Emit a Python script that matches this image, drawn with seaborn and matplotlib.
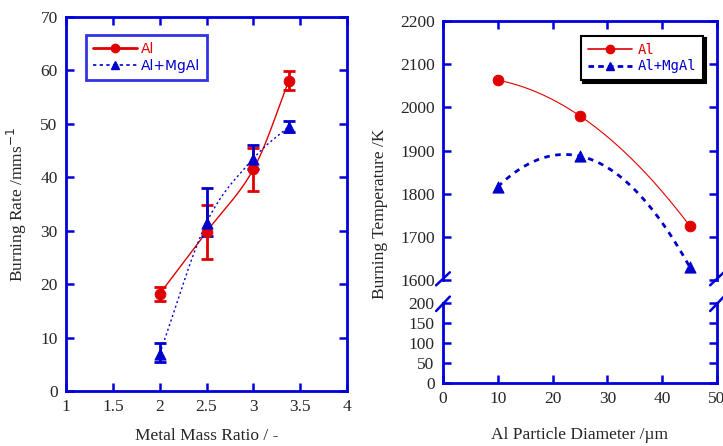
import numpy as np
import seaborn as sns
import matplotlib.pyplot as plt
from matplotlib.lines import Line2D

# left panel: burning rate vs metal mass ratio
ratio = [2.0, 2.5, 3.0, 3.38]
rate_al = [18.2, 29.8, 41.5, 58.1]
err_al = [1.3, 5.0, 4.0, 1.7]
rate_mgal = [7.0, 31.5, 43.5, 49.5]
err_mgal_lo = [1.6, 2.5, 2.0, 1.0]
err_mgal_hi = [2.0, 6.5, 2.5, 1.0]

# right panel: burning temperature vs particle diameter
diam = [10, 25, 45]
temp_al = [2063, 1980, 1726]
temp_mgal = [1816, 1887, 1631]

RED = '#e00000'
BLUE = '#0000cc'
SPINE = '#0000dd'
SERIF = 'Liberation Serif'

sns.set_style('ticks')
plt.rcParams['font.family'] = [SERIF, 'DejaVu Sans']


def smooth(x, y, n=200):
    # smooth curve through the points (polynomial of order len-1)
    c = np.polyfit(x, y, len(x) - 1)
    xs = np.linspace(min(x), max(x), n)
    return xs, np.polyval(c, xs)


def catmull(x, y, n=60):
    # local spline through the points, for drawing the connecting line
    p = np.column_stack([x, y]).astype(float)
    p = np.vstack([2 * p[0] - p[1], p, 2 * p[-1] - p[-2]])
    t = np.linspace(0, 1, n)[:, None]
    out = []
    for i in range(1, len(p) - 2):
        p0, p1, p2, p3 = p[i - 1], p[i], p[i + 1], p[i + 2]
        seg = 0.5 * (2 * p1 + (-p0 + p2) * t + (2 * p0 - 5 * p1 + 4 * p2 - p3) * t ** 2
                     + (-p0 + 3 * p1 - 3 * p2 + p3) * t ** 3)
        out.append(seg)
    out = np.vstack(out)
    return out[:, 0], out[:, 1]


def style_axes(ax):
    for s in ax.spines.values():
        s.set_color(SPINE)
        s.set_linewidth(2)
    ax.tick_params(direction='in', length=6, width=1.8, color=SPINE,
                   top=True, right=True, labelsize=12.5, pad=6)


fig = plt.figure(figsize=(7.23, 4.46), dpi=100)

# ---------- left ----------
ax = fig.add_axes([0.0913, 0.123, 0.3887, 0.839])
style_axes(ax)
xs, ys = catmull(ratio, rate_al)
ax.plot(xs, ys, color=RED, lw=1.0)
xs, ys = catmull(ratio, rate_mgal)
ax.plot(xs, ys, color=BLUE, lw=1.0, ls=(0, (1.5, 2)))
ax.errorbar(ratio, rate_al, yerr=err_al, fmt='none', ecolor=RED, elinewidth=2, capsize=4, capthick=2)
ax.errorbar(ratio, rate_mgal, yerr=[err_mgal_lo, err_mgal_hi], fmt='none', ecolor=BLUE,
            elinewidth=2, capsize=4, capthick=2)
sns.scatterplot(x=ratio, y=rate_al, ax=ax, color=RED, marker='o', s=60, edgecolor=RED, zorder=5)
sns.scatterplot(x=ratio, y=rate_mgal, ax=ax, color=BLUE, marker='^', s=65, edgecolor=BLUE, zorder=5)
ax.set_xlim(1, 4)
ax.set_ylim(0, 70)
ax.set_xticks([1, 1.5, 2, 2.5, 3, 3.5, 4])
ax.set_xticklabels(['1', '1.5', '2', '2.5', '3', '3.5', '4'])
ax.set_yticks(range(0, 71, 10))
ax.set_xlabel('Metal Mass Ratio / -', fontsize=12.5, labelpad=9)
ax.set_ylabel('Burning Rate /mms$^{-1}$', fontsize=12.5, labelpad=8)

h1 = Line2D([], [], color=RED, lw=2, marker='o', ms=6)
h2 = Line2D([], [], color=BLUE, lw=1.2, ls=(0, (2, 2)), marker='^', ms=6)
leg = ax.legend([h1, h2], ['Al', 'Al+MgAl'], loc='upper left', bbox_to_anchor=(0.045, 0.97),
                frameon=True, fancybox=False, handlelength=3.2, handletextpad=0.3,
                borderpad=0.5, labelspacing=0.2, prop={'family': 'DejaVu Sans', 'size': 10})
leg.get_frame().set_edgecolor(SPINE)
leg.get_frame().set_linewidth(2)
leg.get_texts()[0].set_color(RED)
leg.get_texts()[1].set_color(BLUE)

# ---------- right (broken axis) ----------
L, W = 0.6127, 0.379
axu = fig.add_axes([L, 0.372, W, 0.581])
axl = fig.add_axes([L, 0.1413, W, 0.1793], sharex=axu)
style_axes(axu)
style_axes(axl)
axu.spines['bottom'].set_visible(False)
axl.spines['top'].set_visible(False)
axu.tick_params(bottom=False, labelbottom=False)
axl.tick_params(top=False)

xs, ys = smooth(diam, temp_al)
axu.plot(xs, ys, color=RED, lw=0.8)
xs, ys = smooth(diam, temp_mgal)
axu.plot(xs, ys, color=BLUE, lw=2, ls=(0, (2, 2)))
sns.scatterplot(x=diam, y=temp_al, ax=axu, color=RED, marker='o', s=60, edgecolor=RED, zorder=5)
sns.scatterplot(x=diam, y=temp_mgal, ax=axu, color=BLUE, marker='^', s=65, edgecolor=BLUE, zorder=5)
axu.set_xlim(0, 50)
axu.set_ylim(1600, 2200)
axu.set_yticks(range(1600, 2201, 100))
axl.set_ylim(0, 200)
axl.set_yticks(range(0, 201, 50))
axl.set_xticks(range(0, 51, 10))
axl.set_xlabel('Al Particle Diameter /\u00b5m', fontsize=12.5, labelpad=14)
fig.text(0.525, 0.52, 'Burning Temperature /K', rotation=90, va='center', ha='center', fontsize=12.5)

# break marks
kw = dict(color=SPINE, lw=1.8, clip_on=False)
for x0 in (0, 1):
    axu.plot([x0 - 0.025, x0 + 0.025], [-0.02, 0.03], transform=axu.transAxes, **kw)
    axl.plot([x0 - 0.025, x0 + 0.025], [0.9, 1.08], transform=axl.transAxes, **kw)

h3 = Line2D([], [], color=RED, lw=1.2, marker='o', ms=6)
h4 = Line2D([], [], color=BLUE, lw=2, ls=(0, (2, 1.5)), marker='^', ms=6)
leg2 = axu.legend([h3, h4], ['Al', 'Al+MgAl'], loc='upper right', bbox_to_anchor=(0.975, 0.97),
                  frameon=True, fancybox=False, shadow={'color': 'black', 'alpha': 1},
                  handlelength=3.2, handletextpad=0.4, borderpad=0.5, labelspacing=0.2,
                  prop={'family': 'DejaVu Sans Mono', 'size': 10})
leg2.get_frame().set_edgecolor('black')
leg2.get_frame().set_linewidth(1.5)
leg2.get_texts()[0].set_color(RED)
leg2.get_texts()[1].set_color(BLUE)

fig.savefig('out.png', dpi=100)
